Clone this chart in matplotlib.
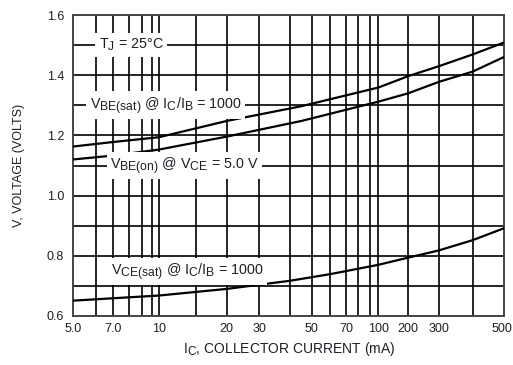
import numpy as np
import matplotlib
matplotlib.use("Agg")
import matplotlib.pyplot as plt
import matplotlib._mathtext as mtext
import matplotlib.transforms as mtrans
from matplotlib.scale import FuncScale
from matplotlib.ticker import FixedLocator, NullLocator

plt.rcParams['font.family'] = ['Liberation Sans', 'DejaVu Sans']
plt.rcParams['mathtext.fontset'] = 'custom'
plt.rcParams['mathtext.rm'] = 'Liberation Sans'
plt.rcParams['mathtext.it'] = 'Liberation Sans'
# datasheet subscripts are nearly full size
mtext.SHRINK_FACTOR = 0.85

# collector current (mA) and voltages
ic_vbe_sat = [5, 7, 10, 20, 45, 100, 200, 300, 400, 500]
vbe_sat = [1.163, 1.178, 1.194, 1.248, 1.297, 1.359, 1.397, 1.430, 1.469, 1.509]

ic_vbe_on = [5, 7, 10, 20, 45, 100, 200, 300, 400, 500]
vbe_on = [1.120, 1.133, 1.153, 1.196, 1.248, 1.312, 1.340, 1.378, 1.412, 1.461]

ic_vce_sat = [5, 10, 20, 40, 60, 100, 200, 300, 400, 500]
vce_sat = [0.651, 0.668, 0.690, 0.717, 0.739, 0.770, 0.794, 0.818, 0.852, 0.892]

# vertical grid lines of the printed graph paper and where they sit (fraction of width)
grid_ic = [5, 6, 7, 8, 9, 9.5, 10, 15, 20, 30, 40, 50, 60, 70, 80, 90, 100, 200, 300, 400, 500]
grid_frac = [0, 0.0526, 0.0927, 0.1298, 0.1593, 0.1825, 0.1994, 0.2845, 0.3564, 0.4320,
             0.5031, 0.5534, 0.5959, 0.6330, 0.6601, 0.6886, 0.7079, 0.7774, 0.8486,
             0.9267, 1.0]
tick_ic = [5, 7, 10, 20, 30, 50, 70, 100, 200, 300, 500]
tick_lbl = ['5.0', '7.0', '10', '20', '30', '50', '70', '100', '200', '300', '500']
volt_ticks = [0.6, 0.8, 1.0, 1.2, 1.4, 1.6]
volt_grid = [0.6, 0.7, 0.8, 0.9, 1.0, 1.1, 1.2, 1.3, 1.4, 1.5, 1.6]

lg = np.log10(grid_ic)
fr = np.array(grid_frac)


def fwd(x):
    x = np.clip(np.asarray(x, dtype=float), 1e-3, None)
    return np.interp(np.log10(x), lg, fr)


def inv(f):
    return 10 ** np.interp(np.asarray(f, dtype=float), fr, lg)


fig = plt.figure(figsize=(5.13, 3.65), dpi=100)
ax = fig.add_axes([73 / 513, 49 / 365, 431.3 / 513, 301 / 365])
ax.set_xscale(FuncScale(ax, (fwd, inv)))
ax.set_xlim(5, 500)
ax.set_ylim(0.6, 1.6)

for g in grid_ic[1:-1]:
    ax.axvline(g, color='black', lw=1.2, zorder=1)
for g in volt_grid[1:-1]:
    ax.axhline(g, color='black', lw=1.2, zorder=1)

ax.plot(ic_vbe_sat, vbe_sat, color='black', lw=1.6, zorder=3)
ax.plot(ic_vbe_on, vbe_on, color='black', lw=1.6, zorder=3)
ax.plot(ic_vce_sat, vce_sat, color='black', lw=1.6, zorder=3)

box = dict(facecolor='white', edgecolor='none', pad=2.5)
tc = '#1e1e28'
ytr = ax.get_yaxis_transform()
fs = 10.3
ax.text(0.060, 1.5, r'T$_\mathregular{J}$ = 25°C', transform=ytr,
        ha='left', va='center', fontsize=fs, color=tc, bbox=box, zorder=4)
ax.text(0.039, 1.3, r'V$_\mathregular{BE(sat)}$ @ I$_\mathregular{C}$/I$_\mathregular{B}$ = 1000',
        transform=ytr, ha='left', va='center', fontsize=fs, color=tc, bbox=box, zorder=4)
ax.text(0.086, 1.1, r'V$_\mathregular{BE(on)}$ @ V$_\mathregular{CE}$ = 5.0 V',
        transform=ytr, ha='left', va='center', fontsize=fs, color=tc, bbox=box, zorder=4)
ax.text(0.088, 0.748, r'V$_\mathregular{CE(sat)}$ @ I$_\mathregular{C}$/I$_\mathregular{B}$ = 1000',
        transform=ytr, ha='left', va='center', fontsize=fs, color=tc, bbox=box, zorder=4)

ax.xaxis.set_major_locator(FixedLocator(tick_ic))
ax.set_xticklabels(tick_lbl)
ax.xaxis.set_minor_locator(NullLocator())
ax.set_yticks(volt_ticks)
ax.set_yticklabels([f'{v:.1f}' for v in volt_ticks])
ax.tick_params(length=0, labelsize=9, labelcolor=tc)
ax.tick_params(axis='x', pad=5)
ax.tick_params(axis='y', pad=19)
for lab in ax.get_yticklabels():
    lab.set_horizontalalignment('left')

# last x label sits against the right edge of the page
last = ax.get_xticklabels()[-1]
last.set_horizontalalignment('right')
last.set_transform(last.get_transform() + mtrans.ScaledTranslation(8 / 100, 0, fig.dpi_scale_trans))

for s in ax.spines.values():
    s.set_color('#444444')
    s.set_linewidth(1.4)

ax.set_xlabel(r'I$_\mathregular{C}$, COLLECTOR CURRENT (mA)', fontsize=10, color=tc, labelpad=4)
ax.set_ylabel('V, VOLTAGE (VOLTS)', fontsize=9, color=tc)
ax.yaxis.set_label_coords(-0.112, 0.5)

fig.savefig('out.png', dpi=100)
